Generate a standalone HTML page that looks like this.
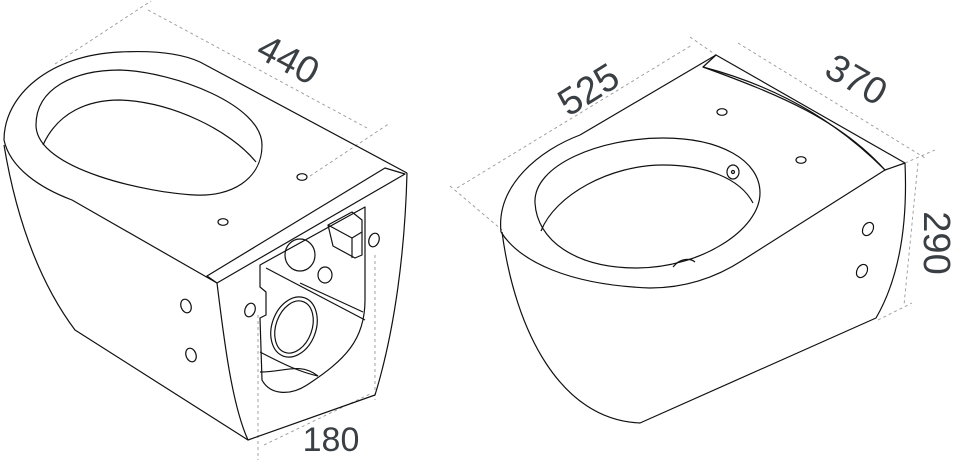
<!DOCTYPE html>
<html><head><meta charset="utf-8"><style>
html,body{margin:0;padding:0;background:#fff;}
svg{display:block;}
text{font-family:"Liberation Sans",sans-serif;fill:#3a3f44;}
</style></head><body>
<svg width="970" height="467" viewBox="0 0 970 467" xmlns="http://www.w3.org/2000/svg">
<g fill="none" stroke="#999" stroke-width="0.9" stroke-dasharray="3,3">
<!-- 440 -->
<line x1="55" y1="64" x2="151" y2="1"/>
<line x1="148" y1="10" x2="367" y2="128"/>
<line x1="310" y1="176" x2="390" y2="123"/>
<!-- 180 -->
<line x1="258" y1="315" x2="258" y2="460"/>
<line x1="375" y1="255" x2="375" y2="400"/>
<line x1="264" y1="445" x2="372" y2="393"/>
<!-- 525 -->
<line x1="450" y1="186" x2="502" y2="230"/>
<line x1="457" y1="188" x2="692" y2="45"/>
<line x1="690" y1="37" x2="716" y2="55"/>
<!-- 370 -->
<line x1="738" y1="43" x2="925" y2="158"/>
<line x1="905" y1="163" x2="935" y2="150"/>
<!-- 290 -->
<line x1="918" y1="163" x2="904" y2="305"/>
<line x1="878" y1="320" x2="912" y2="303"/>
</g>
<g fill="none" stroke="#111" stroke-width="1.2" stroke-linejoin="round">
<!-- LEFT TOILET -->
<path d="M4,140 C4,95 50,55 120,52 C160,50 185,55 200,62 L407,173"/>
<path d="M4,140 C10,168 40,188 72,200 L217,283"/>
<path d="M4,145 C18,230 45,290 75,330 L248,440"/>
<path d="M207,276 L385,168 L405,174 L217,283 Z"/>
<path d="M217,283 C224,340 232,405 248,440 L375,395 C395,330 405,250 407,173"/>
<path d="M36,125 C36,88 75,70 120,70 C175,72 262,105 262,145 C262,180 230,197 195,195 C150,193 36,170 36,125 Z"/>
<path d="M43,145 C58,112 88,100 120,100 C172,102 230,130 256,162"/>
<path d="M260,265 L365,207 L365,300 C365,340 345,360 307,385 C290,396 270,395 262,380 L260,318 L266,315 L266,292 L260,287 Z"/>
<path d="M260,352 C285,365 300,372 318,376"/>
<path d="M260,372 C285,372 300,362 318,376"/>
<path d="M266,268 L365,320"/>
<path d="M300,283 L363,312"/>
<ellipse cx="294" cy="327" rx="22" ry="31" transform="rotate(20 294 327)"/>
<ellipse cx="294" cy="327" rx="18" ry="27" transform="rotate(20 294 327)"/>
<ellipse cx="300" cy="255" rx="15" ry="16"/>
<path d="M328,225 L352,212 L362,220 L362,255 L355,258 L333,246 Z"/>
<path d="M328,225 L352,238 L362,232 M352,238 L352,258"/>
<ellipse cx="325" cy="275" rx="7" ry="8"/>
<ellipse cx="302" cy="177" rx="5" ry="3.3"/>
<ellipse cx="223" cy="222" rx="5" ry="3.3"/>
<ellipse cx="186" cy="306" rx="5" ry="7" transform="rotate(-20 186 306)"/>
<ellipse cx="191" cy="355" rx="5" ry="7" transform="rotate(-20 191 355)"/>
<ellipse cx="250" cy="310" rx="5" ry="7" transform="rotate(20 250 310)"/>
<ellipse cx="374" cy="240" rx="5" ry="7" transform="rotate(20 374 240)"/>
<!-- RIGHT TOILET -->
<path d="M501,232 C496,185 540,150 580,135 L716,55 L905,163"/>
<path d="M716,55 L703,67 C780,95 840,120 885,170 L905,163"/>
<path d="M703,67 C790,90 845,130 885,170"/>
<path d="M905,163 C908,230 898,280 876,318 L640,423 C560,420 515,330 502,232"/>
<path d="M501,232 C520,262 570,285 650,288 C690,288 720,275 743,260 L885,170"/>
<path d="M535,203 C533,165 600,138 663,138 C720,138 760,160 760,193 C760,230 700,268 637,268 C575,268 537,240 535,203 Z"/>
<path d="M541,231 C555,195 610,165 663,165 C705,165 740,178 753,203"/>
<path d="M673,267 C680,258 690,258 695,262"/>
<ellipse cx="733" cy="172" rx="6" ry="7"/>
<circle cx="733" cy="172" r="1.5"/>
<ellipse cx="722" cy="112" rx="5" ry="3.3"/>
<ellipse cx="801" cy="160" rx="5" ry="3.3"/>
<ellipse cx="868" cy="229" rx="5" ry="7" transform="rotate(30 868 229)"/>
<ellipse cx="862" cy="271" rx="5" ry="7" transform="rotate(30 862 271)"/>
</g>
<text x="0" y="0" font-size="38" transform="translate(287,62) rotate(28)" text-anchor="middle" dominant-baseline="middle">440</text>
<text x="331" y="451" font-size="34" text-anchor="middle">180</text>
<text x="0" y="0" font-size="38" transform="translate(590,92) rotate(-32)" text-anchor="middle" dominant-baseline="middle">525</text>
<text x="0" y="0" font-size="38" transform="translate(855,82) rotate(30)" text-anchor="middle" dominant-baseline="middle">370</text>
<text x="0" y="0" font-size="38" transform="translate(934,243) rotate(90)" text-anchor="middle" dominant-baseline="middle">290</text>
</svg>
</body></html>
